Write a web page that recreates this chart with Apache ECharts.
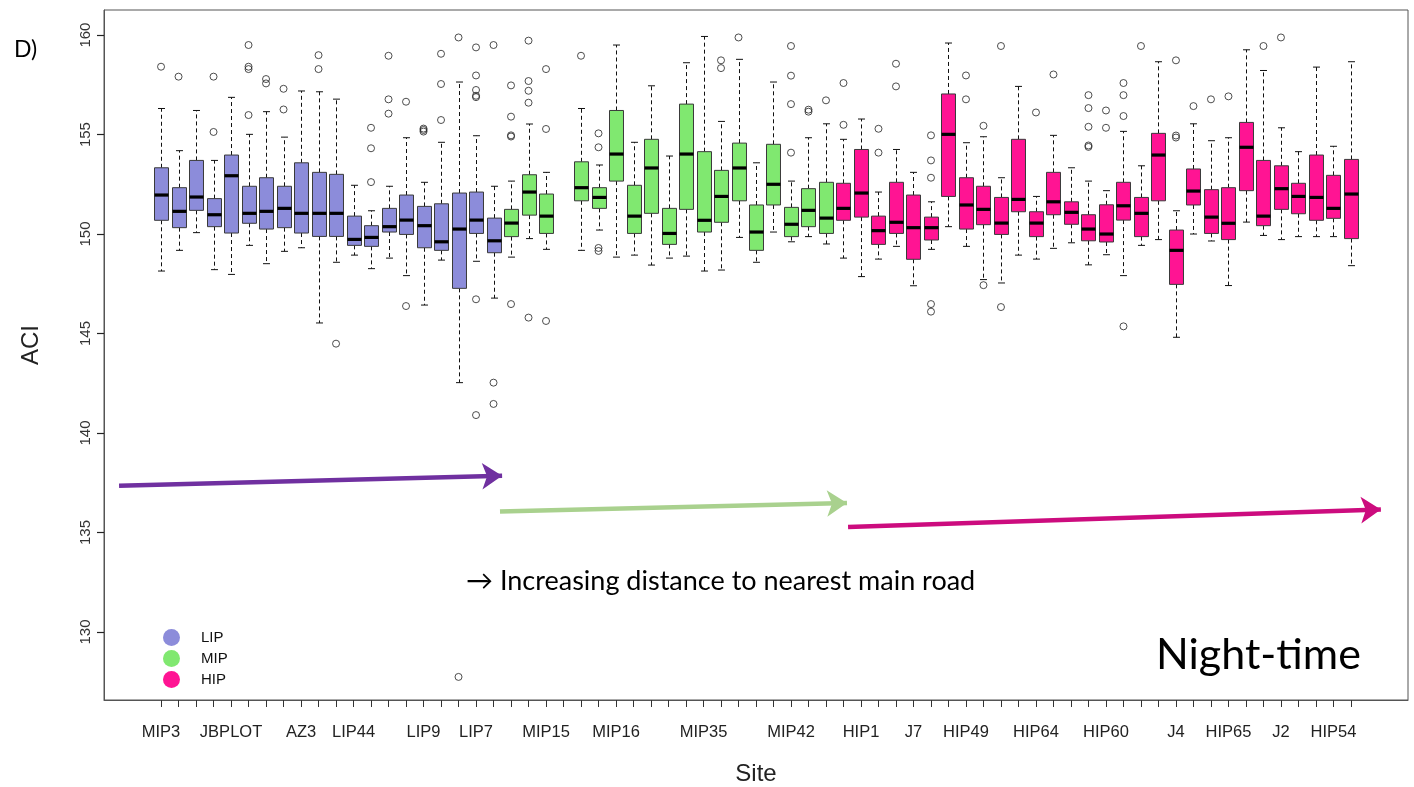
<!DOCTYPE html>
<html>
<head>
<meta charset="utf-8">
<script src="https://cdn.jsdelivr.net/npm/echarts@6/dist/echarts.min.js"></script>
<style>
html,body{margin:0;padding:0;background:#ffffff;overflow:hidden;}
#chart{width:1414px;height:787px;}
</style>
</head>
<body>
<div id="chart"></div>
<script>
// ---------- DATA ----------
// Site labels along the x axis (positions 1..69); unnamed sites have no printed label
const sites = [
  'MIP3','','','','JBPLOT','','','','AZ3','','','LIP44','','','','LIP9','','','LIP7','',
  '','','MIP15','','','','MIP16','','','','','MIP35','','','','','MIP42','','',
  '','HIP1','','','J7','','','HIP49','','','','HIP64','','','','HIP60','','','','J4',
  '','','HIP65','','','J2','','','HIP54',''
];
const yTicks = [130, 135, 140, 145, 150, 155, 160];

// Box statistics per site: [lower whisker, Q1, median, Q3, upper whisker]
const lipPositions = [1,2,3,4,5,6,7,8,9,10,11,12,13,14,15,16,17,18,19,20];
const lipStats = [
  [148.14,150.69,151.96,153.33,156.31],
  [149.18,150.32,151.14,152.33,154.19],
  [150.07,151.19,151.86,153.70,156.21],
  [148.21,150.37,150.97,151.78,153.70],
  [147.97,150.05,152.93,153.97,156.87],
  [149.43,150.54,151.04,152.40,155.01],
  [148.51,150.25,151.14,152.83,156.15],
  [149.13,150.32,151.29,152.40,154.87],
  [149.31,150.05,151.04,153.58,157.19],
  [145.53,149.88,151.04,153.10,157.15],
  [148.58,149.88,151.04,153.00,156.78],
  [148.94,149.43,149.73,150.90,152.45],
  [148.26,149.38,149.83,150.42,151.17],
  [148.79,150.10,150.37,151.29,152.40],
  [147.91,149.98,150.70,151.96,154.84],
  [146.43,149.31,150.42,151.39,152.60],
  [148.69,149.18,149.61,151.52,154.61],
  [142.53,147.27,150.25,152.06,157.64],
  [148.63,150.03,150.70,152.11,154.94],
  [146.78,149.06,149.66,150.80,152.40]
];
const lipOutliers = [
  [158.41],[157.91],[],[157.91,155.13],[],[159.50,158.41,158.29,155.98],[157.79,157.57],
  [157.30,156.26],[],[158.99,158.29],[144.49],[],[155.34,154.31,152.61],[158.96,156.77,156.05],
  [156.65,146.38],[155.30,155.23,155.15],[159.06,157.54,155.73],[159.88,127.74],
  [159.38,157.97,157.24,156.95,156.88,146.72,140.90],[159.50,142.53,141.46]
];

const mipPositions = [21,22,23,25,26,27,28,29,30,31,32,33,34,35,36,37,38,39];
const mipStats = [
  [148.84,149.87,150.55,151.24,152.66],
  [149.77,150.95,152.11,152.98,155.53],
  [149.23,150.03,150.90,152.01,153.10],
  [149.18,151.67,152.33,153.63,156.31],
  [150.20,151.29,151.84,152.33,153.47],
  [148.84,152.66,154.02,156.21,159.50],
  [148.94,150.03,150.90,152.45,154.61],
  [148.44,151.04,153.32,154.76,157.45],
  [148.79,149.48,150.03,151.29,153.92],
  [148.89,151.24,154.02,156.53,158.61],
  [148.14,150.10,150.69,154.14,159.93],
  [148.19,150.59,151.89,153.20,155.66],
  [149.83,151.67,153.32,154.57,158.78],
  [148.58,149.18,150.10,151.46,153.58],
  [150.10,151.46,152.50,154.51,157.64],
  [149.61,149.87,150.49,151.34,152.66],
  [149.87,150.37,151.19,152.28,154.84],
  [149.50,150.03,150.80,152.60,155.54]
];
const mipOutliers = [
  [157.47,155.90,154.96,154.90,146.48],[159.72,157.69,157.20,156.60,145.80],[158.29,155.28,145.63],
  [158.96],[155.06,154.36,149.30,149.15],[],[],[],[],[],[],[158.73,158.34],[159.88],[],[],
  [159.45,157.96,156.53,154.09],[156.25,156.15],[156.72]
];

const hipPositions = [40,41,42,43,44,45,46,47,48,49,50,51,52,53,54,55,56,57,58,59,60,61,62,63,64,65,66,67,68,69];
const hipStats = [
  [148.79,150.69,151.29,152.55,154.76],
  [147.86,150.85,152.06,154.25,155.78],
  [148.74,149.48,150.17,150.90,152.11],
  [149.38,150.03,150.59,152.60,154.25],
  [147.40,148.73,150.32,151.96,153.10],
  [149.23,149.70,150.32,150.85,151.62],
  [150.37,151.89,155.01,157.04,159.60],
  [149.38,150.25,151.46,152.83,154.59],
  [147.71,150.47,151.24,152.40,154.89],
  [147.54,149.98,150.55,151.84,152.83],
  [148.94,151.12,151.74,154.76,157.42],
  [148.74,149.87,150.55,151.12,151.89],
  [149.28,150.97,151.62,153.10,154.96],
  [149.56,150.49,151.09,151.62,153.33],
  [148.45,149.66,150.25,150.97,152.66],
  [148.96,149.60,150.00,151.47,152.18],
  [147.91,150.70,151.42,152.60,155.16],
  [149.43,149.87,151.04,151.84,153.43],
  [149.72,151.67,153.97,155.06,158.66],
  [144.81,147.47,149.18,150.20,151.17],
  [150.00,151.46,152.16,153.27,155.54],
  [149.65,150.03,150.85,152.23,154.69],
  [147.41,149.72,150.54,152.33,154.84],
  [150.60,152.18,154.36,155.61,159.26],
  [149.93,150.42,150.90,153.70,158.22],
  [149.72,151.24,152.28,153.43,155.34],
  [149.87,151.02,151.89,152.55,154.14],
  [149.87,150.69,151.84,153.97,158.39],
  [149.87,150.79,151.29,152.95,154.41],
  [148.41,149.77,152.01,153.75,158.66]
];
const hipOutliers = [
  [157.59,155.49],[],[155.29,154.09],[158.56,157.42],[],[154.96,153.70,152.83,146.48,146.10],[],
  [157.97,156.77],[155.44,147.43],[159.45,146.33],[],[156.11],[158.02],[],
  [156.98,156.33,155.39,154.45,154.38],[156.21,155.34],[157.59,156.98,155.93,145.36],[159.45],[],
  [158.73,154.95,154.85],[156.43],[156.77],[156.92],[],[159.45],[159.88],[],[],[],[]
];

// Trend arrows (annotation), [x in site units, ACI]
const arrowLIP = [[-1.4,137.35],[20.49,137.85]];
const arrowMIP = [[20.37,136.05],[40.2,136.48]];
const arrowHIP = [[40.26,135.28],[70.71,136.16]];

// ---------- BUILD ----------
const X_MIN = -2.26, X_MAX = 72.26, Y_MIN = 126.58, Y_MAX = 161.26;
const groupColors = {LIP:'#8C8CDA', MIP:'#80E870', HIP:'#FF1493'};

function boxData(positions, stats){
  return positions.map((p,i)=>[p].concat(stats[i]));
}
function outlierData(positions, outs){
  const res = [];
  positions.forEach((p,i)=>{ outs[i].forEach(v=>res.push([p,v])); });
  return res;
}
const allOutliers = outlierData(lipPositions, lipOutliers)
  .concat(outlierData(mipPositions, mipOutliers))
  .concat(outlierData(hipPositions, hipOutliers));

function renderBox(params, api){
  const x = api.value(0);
  const lo = api.coord([x, api.value(1)]);
  const q1 = api.coord([x, api.value(2)]);
  const md = api.coord([x, api.value(3)]);
  const q3 = api.coord([x, api.value(4)]);
  const hi = api.coord([x, api.value(5)]);
  const w = api.size([0.8, 0])[0];
  const cx = Math.round(lo[0]) + 0.5;
  const fill = api.visual('color');
  const dash = {stroke:'#111', lineWidth:1, lineDash:[4,3], fill:null};
  const solid = {stroke:'#111', lineWidth:1, fill:null};
  return {
    type:'group',
    children:[
      {type:'line', shape:{x1:cx,y1:q3[1],x2:cx,y2:hi[1]}, style:dash},
      {type:'line', shape:{x1:cx,y1:q1[1],x2:cx,y2:lo[1]}, style:dash},
      {type:'line', shape:{x1:cx-w/4,y1:hi[1],x2:cx+w/4,y2:hi[1]}, style:solid},
      {type:'line', shape:{x1:cx-w/4,y1:lo[1],x2:cx+w/4,y2:lo[1]}, style:solid},
      {type:'rect', shape:{x:cx-w/2,y:q3[1],width:w,height:q1[1]-q3[1]}, style:{fill:fill, stroke:'#3a3a3a', lineWidth:1}},
      {type:'line', shape:{x1:cx-w/2,y1:md[1],x2:cx+w/2,y2:md[1]}, style:{stroke:'#000', lineWidth:3.2}}
    ]
  };
}

function boxSeries(name, positions, stats){
  return {
    name:name, type:'custom', renderItem:renderBox,
    itemStyle:{color:groupColors[name]},
    encode:{x:0, y:[1,2,3,4,5]},
    data:boxData(positions, stats),
    z:3, silent:true
  };
}

const tickPositions = sites.map((s,i)=>i+1);
const labelPositions = sites.map((s,i)=>s ? i+1 : null).filter(v=>v!==null);

const arrowSeries = {
  type:'lines', coordinateSystem:'cartesian2d', silent:true, z:2,
  symbol:['none','arrow'], symbolSize:20,
  data:[
    {coords:arrowLIP, lineStyle:{color:'#7030A0'}},
    {coords:arrowMIP, lineStyle:{color:'#A9D18E'}},
    {coords:arrowHIP, lineStyle:{color:'#CC0C7E'}}
  ],
  lineStyle:{width:4.5, opacity:1, curveness:0}
};

const chart = echarts.init(document.getElementById('chart'), null, {renderer:'canvas', width:1414, height:787});
chart.setOption({
  animation:false,
  backgroundColor:'#ffffff',
  grid:{left:104, right:6, top:10, bottom:87, show:true, borderColor:'#555', borderWidth:1,
    backgroundColor:'#ffffff', containLabel:false, outerBoundsMode:'none'},
  xAxis:{
    type:'value', min:X_MIN, max:X_MAX,
    axisLine:{show:true, onZero:false, lineStyle:{color:'#555', width:1}}, splitLine:{show:false},
    axisTick:{show:true, length:7, customValues:tickPositions, lineStyle:{color:'#333'}},
    axisLabel:{show:true, customValues:labelPositions, formatter:(v)=>sites[Math.round(v)-1], margin:24,
      fontFamily:'Liberation Sans', fontSize:16.5, color:'#222'},
    name:'Site', nameLocation:'middle', nameGap:62,
    nameTextStyle:{fontFamily:'Liberation Sans', fontSize:24, color:'#222'}
  },
  yAxis:{
    type:'value', min:Y_MIN, max:Y_MAX,
    axisLine:{show:true, onZero:false, lineStyle:{color:'#555', width:1}}, splitLine:{show:false},
    axisTick:{show:true, length:7, customValues:yTicks, lineStyle:{color:'#222', width:1.2}},
    axisLabel:{show:true, customValues:yTicks, rotate:90, margin:11,
      fontFamily:'Liberation Sans', fontSize:15, color:'#333'},
    name:'ACI', nameLocation:'middle', nameGap:61, nameRotate:90,
    nameTextStyle:{fontFamily:'Liberation Sans', fontSize:24, color:'#222', padding:[0,0,0,20]}
  },
  legend:{
    data:['LIP','MIP','HIP'], orient:'vertical', left:163, top:629,
    itemWidth:17, itemHeight:17, itemGap:4, icon:'circle', selectedMode:false, padding:0,
    textStyle:{fontFamily:'Liberation Sans', fontSize:15, color:'#111', padding:[0,0,0,16]}
  },
  graphic:[
    {type:'text', left:14, top:38, style:{text:'D)', font:'23px Lato', fill:'#000'}},
    {type:'text', left:466, top:568, style:{text:'\u2192 Increasing distance to nearest main road', font:'27px Lato', fill:'#000'}},
    {type:'text', left:1156, top:634, style:{text:'Night-time', font:'43px Lato', fill:'#000'}}
  ],
  series:[
    arrowSeries,
    boxSeries('LIP', lipPositions, lipStats),
    boxSeries('MIP', mipPositions, mipStats),
    boxSeries('HIP', hipPositions, hipStats),
    {
      name:'outliers', type:'scatter', data:allOutliers, symbol:'circle', symbolSize:7,
      itemStyle:{color:'rgba(0,0,0,0)', borderColor:'#222', borderWidth:1},
      z:4, silent:true
    }
  ]
});
</script>
</body>
</html>
